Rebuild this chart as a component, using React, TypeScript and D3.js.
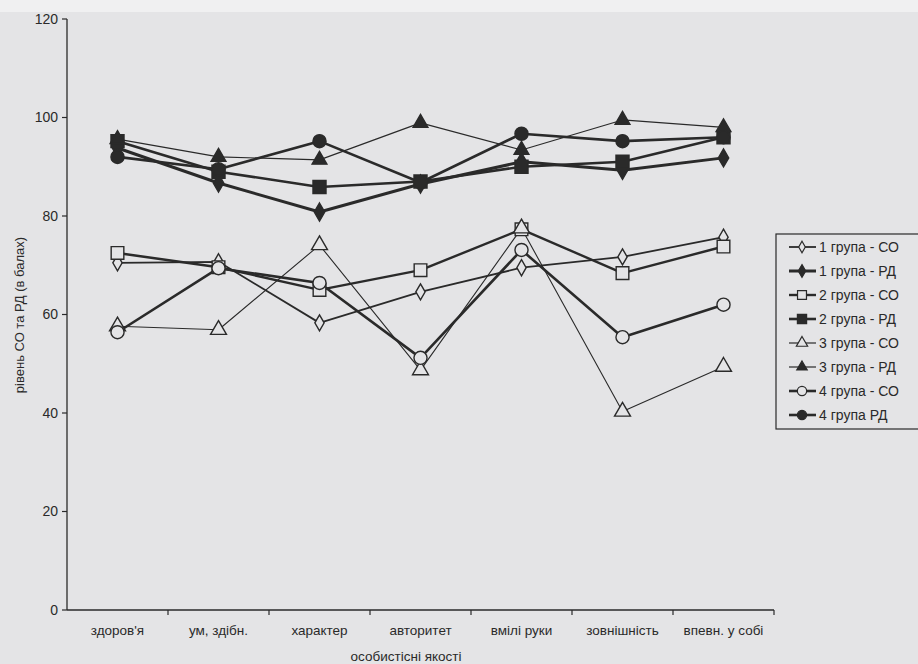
import React from "react";
import * as d3 from "d3";

const categories = ["здоров'я", "ум, здібн.", "характер", "авторитет", "вмілі руки", "зовнішність", "впевн. у собі"];
const yTicks = [0, 20, 40, 60, 80, 100, 120];

const g1CO = [70.5, 70.7, 58.3, 64.6, 69.5, 71.7, 75.7];
const g1RD = [93.8, 86.7, 80.8, 86.5, 91.0, 89.3, 91.8];
const g2CO = [72.5, 69.6, 65.0, 69.0, 77.3, 68.4, 73.8];
const g2RD = [95.2, 89.0, 85.9, 87.0, 90.0, 91.0, 96.0];
const g3CO = [57.6, 56.9, 74.1, 48.7, 77.5, 40.3, 49.4];
const g3RD = [95.6, 92.0, 91.4, 98.9, 93.4, 99.5, 98.0];
const g4CO = [56.4, 69.4, 66.4, 51.2, 73.1, 55.4, 62.0];
const g4RD = [92.0, 89.5, 95.2, 86.8, 96.7, 95.2, 96.0];

const seriesNames = ["1 група - СО", "1 група - РД", "2 група - СО", "2 група - РД", "3 група - СО", "3 група - РД", "4 група - СО", "4 група РД"];
const seriesValues = [g1CO, g1RD, g2CO, g2RD, g3CO, g3RD, g4CO, g4RD];

const INK = "#2a2a2a";
const BG = "#e4e4e6";

type Style = { shape: d3.SymbolType; size: number; filled: boolean; width: number };
const styles: Style[] = [
  { shape: d3.symbolDiamond, size: 75, filled: false, width: 1.8 },
  { shape: d3.symbolDiamond, size: 95, filled: true, width: 3 },
  { shape: d3.symbolSquare, size: 160, filled: false, width: 2.4 },
  { shape: d3.symbolSquare, size: 170, filled: true, width: 2.6 },
  { shape: d3.symbolTriangle, size: 110, filled: false, width: 1.1 },
  { shape: d3.symbolTriangle, size: 95, filled: true, width: 1.2 },
  { shape: d3.symbolCircle, size: 135, filled: false, width: 2.6 },
  { shape: d3.symbolCircle, size: 135, filled: true, width: 2.6 },
];

export default function App() {
  const W = 918, H = 664;
  const x = d3.scaleBand<string>().domain(categories).range([67, 774]);
  const y = d3.scaleLinear().domain([0, 120]).range([610, 19]);
  const cx = (c: string) => (x(c) as number) + x.bandwidth() / 2;
  const line = d3.line<number>().x((_, i) => cx(categories[i])).y((v) => y(v));
  const font = "'Liberation Sans', Arial, sans-serif";
  const legX = 776, legY = 234, legStep = 24;

  return (
    <svg width={W} height={H} style={{ position: "absolute", left: 0, top: 0, display: "block" }} fontFamily={font}>
      <rect x={0} y={0} width={W} height={H} fill={BG} />
      <rect x={0} y={0} width={W} height={12} fill="#f0f0f1" />
      {/* y axis */}
      <line x1={67} x2={67} y1={y(120)} y2={y(0)} stroke={INK} strokeWidth={1.3} />
      {yTicks.map((t) => (
        <g key={t}>
          <line x1={62} x2={67} y1={y(t)} y2={y(t)} stroke={INK} strokeWidth={1.2} />
          <text x={58} y={y(t)} dy="0.35em" textAnchor="end" fontSize={14} fill={INK}>{t}</text>
        </g>
      ))}
      {/* x axis */}
      <line x1={67} x2={774} y1={y(0)} y2={y(0)} stroke={INK} strokeWidth={1.3} />
      {categories.map((c, i) => (
        <line key={"t" + i} x1={(x(c) as number) + x.bandwidth()} x2={(x(c) as number) + x.bandwidth()} y1={y(0)} y2={y(0) + 5} stroke={INK} strokeWidth={1.2} />
      ))}
      {categories.map((c) => (
        <text key={c} x={cx(c)} y={635} textAnchor="middle" fontSize={13.5} fill={INK}>{c}</text>
      ))}
      <text x={406} y={661} textAnchor="middle" fontSize={13.5} fill={INK}>особистісні якості</text>
      <text transform={`translate(24,315) rotate(-90)`} textAnchor="middle" fontSize={13} fill={INK}>рівень СО та РД (в балах)</text>
      {/* lines */}
      {seriesValues.map((vals, s) => (
        <path key={"l" + s} d={line(vals) as string} fill="none" stroke={INK} strokeWidth={styles[s].width} strokeLinejoin="round" />
      ))}
      {/* markers */}
      {seriesValues.map((vals, s) => (
        <g key={"m" + s}>
          {vals.map((v, i) => (
            <path
              key={i}
              transform={`translate(${cx(categories[i])},${y(v)})`}
              d={d3.symbol().type(styles[s].shape).size(styles[s].size)() as string}
              fill={styles[s].filled ? INK : BG}
              stroke={INK}
              strokeWidth={1.4}
            />
          ))}
        </g>
      ))}
      {/* legend */}
      <rect x={legX} y={legY} width={W - legX + 5} height={195} fill={BG} stroke={INK} strokeWidth={1.2} />
      {seriesNames.map((n, s) => {
        const ly = legY + 13 + s * legStep;
        return (
          <g key={n}>
            <line x1={789} x2={816} y1={ly} y2={ly} stroke={INK} strokeWidth={Math.max(1.2, styles[s].width)} />
            <path
              transform={`translate(802,${ly})`}
              d={d3.symbol().type(styles[s].shape).size(styles[s].size * 0.5)() as string}
              fill={styles[s].filled ? INK : BG}
              stroke={INK}
              strokeWidth={1.2}
            />
            <text x={819} y={ly} dy="0.35em" fontSize={14} fill={INK}>{n}</text>
          </g>
        );
      })}
    </svg>
  );
}
